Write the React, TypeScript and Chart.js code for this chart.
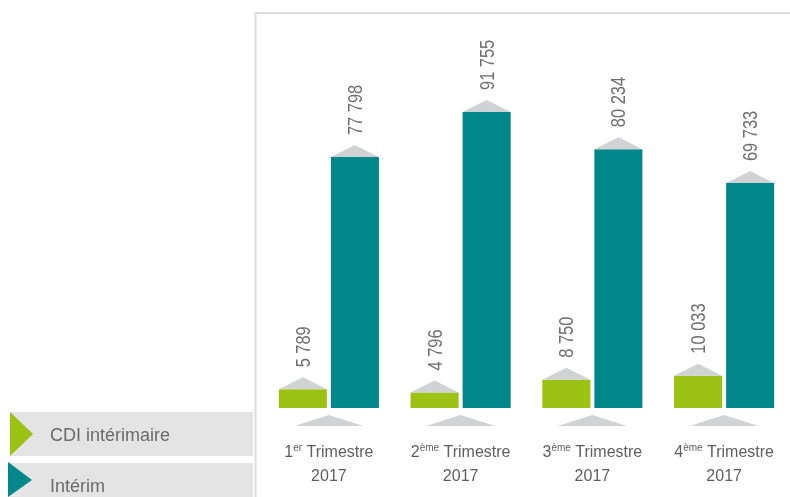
import React, { useEffect, useRef } from "react";
import { Chart, registerables } from "chart.js";

Chart.register(...registerables);

// ---- data ----
const categoryNumbers = ["1", "2", "3", "4"];
const categorySups = ["er", "ème", "ème", "ème"];
const categoryWord = " Trimestre";
const categoryYears = ["2017", "2017", "2017", "2017"];
const seriesNames = ["CDI intérimaire", "Intérim"];
const cdiValues = [5789, 4796, 8750, 10033];
const interimValues = [77798, 91755, 80234, 69733];
const yMax = 122750;

// ---- styles ----
const GREEN = "#9bc112";
const TEAL = "#00878a";
const ROOF = "#d1d2d4";
const BORDER = "#dcdcdc";
const LEGEND_BG = "#e3e4e3";
const SANS = '"Liberation Sans", Arial, sans-serif';

const fmt = (v: number) => String(v).replace(/\B(?=(\d{3})+(?!\d))/g, " ");

export default function App() {
  const ref = useRef<HTMLCanvasElement>(null);

  useEffect(() => {
    document.body.style.margin = "0";
    const canvas = ref.current!;
    const seriesColors = [GREEN, TEAL];

    const overlay = {
      id: "overlay",
      beforeDraw(chart: any) {
        const ctx = chart.ctx as CanvasRenderingContext2D;
        const area = chart.chartArea;
        const xs = chart.scales.x;
        ctx.save();
        // frame
        ctx.fillStyle = BORDER;
        ctx.fillRect(254.5, area.top, 2, chart.height - area.top);
        ctx.fillRect(254.5, area.top, chart.width - 254.5, 2);
        // legend
        const items = [
          { box: [10, 412, 243, 44], tri: [10, 412, 10, 456, 33, 434], base: 441 },
          { box: [8, 463, 245, 40], tri: [8, 462, 8, 497, 32, 480], base: 492 },
        ];
        items.forEach((it, i) => {
          ctx.fillStyle = LEGEND_BG;
          ctx.fillRect(it.box[0], it.box[1], it.box[2], it.box[3]);
          ctx.fillStyle = seriesColors[i];
          ctx.beginPath();
          ctx.moveTo(it.tri[0], it.tri[1]);
          ctx.lineTo(it.tri[2], it.tri[3]);
          ctx.lineTo(it.tri[4], it.tri[5]);
          ctx.closePath();
          ctx.fill();
          ctx.fillStyle = "#6a6a6a";
          ctx.font = `18px ${SANS}`;
          ctx.textAlign = "left";
          ctx.textBaseline = "alphabetic";
          ctx.fillText(seriesNames[i], 50, it.base);
        });
        // triangles under each category
        ctx.fillStyle = ROOF;
        categoryNumbers.forEach((_, i) => {
          const cx = xs.getPixelForValue(i);
          ctx.beginPath();
          ctx.moveTo(cx - 34.5, area.bottom + 18);
          ctx.lineTo(cx + 34.5, area.bottom + 18);
          ctx.lineTo(cx, area.bottom + 7);
          ctx.closePath();
          ctx.fill();
        });
        ctx.restore();
      },
      afterDatasetsDraw(chart: any) {
        const ctx = chart.ctx as CanvasRenderingContext2D;
        const xs = chart.scales.x;
        ctx.save();
        chart.data.datasets.forEach((ds: any, di: number) => {
          const meta = chart.getDatasetMeta(di);
          meta.data.forEach((el: any, i: number) => {
            const { x, y, width } = el.getProps(["x", "y", "width"], true);
            ctx.fillStyle = ROOF;
            ctx.beginPath();
            ctx.moveTo(x - width / 2, y);
            ctx.lineTo(x + width / 2, y);
            ctx.lineTo(x, y - 12);
            ctx.closePath();
            ctx.fill();
            ctx.save();
            ctx.translate(x + 7, y - 22);
            ctx.rotate(-Math.PI / 2);
            ctx.scale(0.82, 1);
            ctx.fillStyle = "#6e6e6e";
            ctx.font = `20px ${SANS}`;
            ctx.textAlign = "left";
            ctx.textBaseline = "alphabetic";
            ctx.fillText(fmt(ds.data[i]), 0, 0);
            ctx.restore();
          });
        });
        // category labels
        ctx.fillStyle = "#5e5e5e";
        ctx.textBaseline = "alphabetic";
        categoryNumbers.forEach((n, i) => {
          const cx = xs.getPixelForValue(i);
          const big = `16px ${SANS}`;
          const small = `10px ${SANS}`;
          ctx.font = big;
          const w1 = ctx.measureText(n).width;
          const w3 = ctx.measureText(categoryWord).width;
          ctx.font = small;
          const w2 = ctx.measureText(categorySups[i]).width;
          const sx = cx - (w1 + w2 + w3) / 2;
          ctx.textAlign = "left";
          ctx.font = big;
          ctx.fillText(n, sx, 457);
          ctx.font = small;
          ctx.fillText(categorySups[i], sx + w1, 451);
          ctx.font = big;
          ctx.fillText(categoryWord, sx + w1 + w2, 457);
          ctx.textAlign = "center";
          ctx.fillText(categoryYears[i], cx, 481);
        });
        ctx.restore();
      },
    };

    const chart = new Chart(canvas, {
      type: "bar",
      data: {
        labels: categoryNumbers.map((n, i) => `${n}${categorySups[i]}${categoryWord} ${categoryYears[i]}`),
        datasets: [
          { label: seriesNames[0], data: cdiValues, backgroundColor: GREEN, categoryPercentage: 0.79, barPercentage: 0.923 },
          { label: seriesNames[1], data: interimValues, backgroundColor: TEAL, categoryPercentage: 0.79, barPercentage: 0.923 },
        ],
      },
      options: {
        responsive: false,
        animation: false,
        layout: { padding: { left: 263, right: 0, top: 12, bottom: 89 } },
        plugins: { legend: { display: false }, tooltip: { enabled: false } },
        scales: {
          x: { display: false, grid: { display: false } },
          y: { display: false, min: 0, max: yMax, grid: { display: false } },
        },
      },
      plugins: [overlay],
    } as any);
    return () => chart.destroy();
  }, []);

  return (
    <div style={{ width: 790, height: 497, position: "relative" }}>
      <canvas ref={ref} width={790} height={497} style={{ display: "block" }} />
    </div>
  );
}
